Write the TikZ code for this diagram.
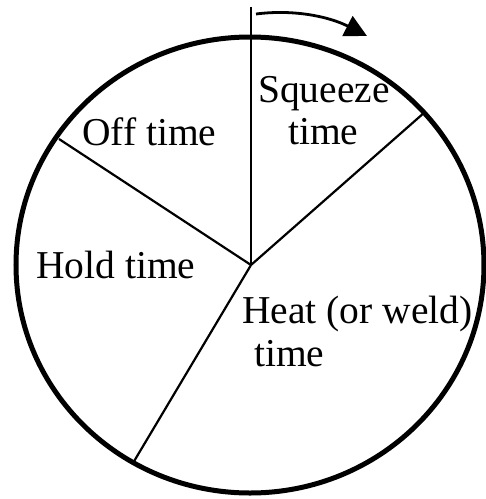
\documentclass[tikz,border=0pt]{standalone}
\usepackage{fontspec}
\setmainfont{Liberation Serif}
\usetikzlibrary{arrows.meta}

\begin{document}
\begin{tikzpicture}[
    rim/.style={line width=5pt},
    spoke/.style={line width=2.2pt},
    turn/.style={line width=2.8pt, -{Triangle[length=22pt,width=22pt]}},
    phase/.style={font=\fontsize{39.5}{43}\selectfont, inner sep=0pt},
    x=1pt, y=-1pt
]
\useasboundingbox (0,0) rectangle (486,499);

%% Ciclo
\draw[rim] (250,265) ellipse [x radius=234, y radius=228];

%% Punti
\coordinate (hub)  at (251,265);
\coordinate (top)  at (251,7);
\coordinate (sqz)  at (425,112);
\coordinate (off)  at (59,139);
\coordinate (hold) at (133,463);
\coordinate (ast)  at (256,14);
\coordinate (aend) at (367,36);

%% Raggi
\draw[spoke] (hub) -- (top);
\draw[spoke] (hub) -- (sqz);
\draw[spoke] (hub) -- (off);
\draw[spoke] (hub) -- (hold);

%% Verso di rotazione
\draw[turn] (ast) .. controls (295,9) and (330,17) .. (aend);

%% Fasi
\node[phase, anchor=base west] (lsqz)  at (258,102) {Squeeze};
\node[phase, anchor=base west] (lsqzt) at (288,144) {time};
\node[phase, anchor=base west] (loff)  at (82,145)  {Off time};
\node[phase, anchor=base west] (lhold) at (36,278)  {Hold time};
\node[phase, anchor=base west] (lheat) at (242,323) {Heat (or weld)};
\node[phase, anchor=base west] (lheatt) at (254,366) {time};

\end{tikzpicture}
\end{document}
